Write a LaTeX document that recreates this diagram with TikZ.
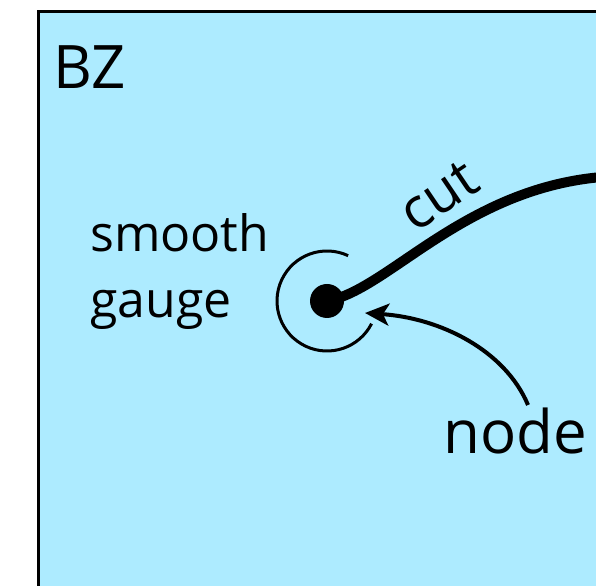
\documentclass[tikz,border=0pt]{standalone}
\usepackage{fontspec}
\setmainfont{Open Sans}
\usetikzlibrary{arrows.meta}
\definecolor{bzblue}{RGB}{173,235,255}
\tikzset{
  lbl/.style={inner sep=0pt, font=\fontsize{50bp}{66bp}\selectfont},
  cutlbl/.style={inner sep=0pt, font=\fontsize{56bp}{66bp}\selectfont},
  biglbl/.style={inner sep=0pt, font=\fontsize{60bp}{70bp}\selectfont},
  cutline/.style={line width=10bp},
  thin/.style={line width=3bp},
  pointer/.style={line width=4bp, -{Stealth[length=24bp, width=22bp, inset=6bp]}},
}
\begin{document}
\begin{tikzpicture}[x=1bp,y=1bp]
\useasboundingbox (0,0) rectangle (596,586);
\draw[thin, fill=bzblue] (38.5,574.5) rectangle (640,-40);
\node[biglbl, anchor=base west] (bz) at (53,497) {BZ};
\node[lbl, anchor=base west, align=left] (sg) at (90,268) {smooth\\gauge};
\node[circle, fill=black, minimum size=34bp, inner sep=0pt] (dot) at (327,285) {};
\draw[thin] ([shift={(65:50)}]327,285) arc[start angle=65, end angle=333, radius=50];
\coordinate (cutend) at (620,410);
\draw[cutline] (dot.center) .. controls (390,296) and (470,406) .. (cutend);
\node[cutlbl, rotate=34] (cut) at (439,390) {cut};
\node[biglbl, anchor=base west] (nd) at (443,132) {node};
\coordinate (tip) at (365,273);
\draw[pointer] (528,181) .. controls (505,236) and (440,268) .. (tip);
\end{tikzpicture}
\end{document}
